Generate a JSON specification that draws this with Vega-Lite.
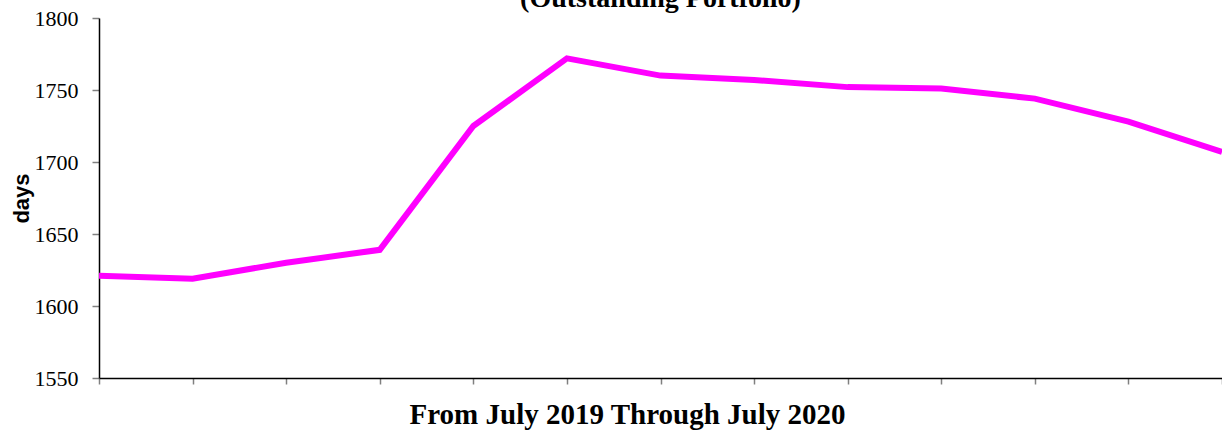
{
  "$schema": "https://vega.github.io/schema/vega-lite/v6.json",
  "width": 1123,
  "height": 360,
  "autosize": "none",
  "padding": {"left": 99, "top": 18, "right": 0, "bottom": 53},
  "background": "white",
  "config": {"view": {"stroke": null}},
  "title": {
    "text": "(Outstanding Portfolio)",
    "font": "Liberation Serif",
    "fontSize": 28,
    "fontWeight": "bold",
    "color": "black",
    "baseline": "alphabetic",
    "offset": 0,
    "dy": 28,
    "anchor": "middle"
  },
  "data": {
    "values": [
      {"month": "Jul 2019", "days": 1621},
      {"month": "Aug 2019", "days": 1619},
      {"month": "Sep 2019", "days": 1630},
      {"month": "Oct 2019", "days": 1639},
      {"month": "Nov 2019", "days": 1725},
      {"month": "Dec 2019", "days": 1772},
      {"month": "Jan 2020", "days": 1760},
      {"month": "Feb 2020", "days": 1757},
      {"month": "Mar 2020", "days": 1752},
      {"month": "Apr 2020", "days": 1751},
      {"month": "May 2020", "days": 1744},
      {"month": "Jun 2020", "days": 1728},
      {"month": "Jul 2020", "days": 1707}
    ]
  },
  "mark": {"type": "line", "color": "#FF00FF", "strokeWidth": 6, "clip": true},
  "encoding": {
    "x": {
      "field": "month",
      "type": "ordinal",
      "sort": null,
      "scale": {"type": "point", "padding": 0},
      "axis": {
        "title": "From July 2019 Through July 2020",
        "titleFont": "Liberation Serif",
        "titleFontSize": 29,
        "titleFontWeight": "bold",
        "titleColor": "black",
        "titleX": 528,
        "titleY": 45,
        "titleAnchor": "middle",
        "titleBaseline": "alphabetic",
        "labels": false,
        "domainColor": "black",
        "domainWidth": 1.5,
        "tickColor": "#808080",
        "tickSize": 6,
        "tickWidth": 1.5,
        "grid": false
      }
    },
    "y": {
      "field": "days",
      "type": "quantitative",
      "scale": {"domain": [1550, 1800], "nice": false, "zero": false},
      "axis": {
        "title": "days",
        "titleFont": "Liberation Sans",
        "titleFontSize": 22,
        "titleFontWeight": "bold",
        "titleColor": "black",
        "titleX": -71,
        "titleBaseline": "alphabetic",
        "titleAnchor": "middle",
        "values": [1550, 1600, 1650, 1700, 1750, 1800],
        "format": "d",
        "labelFont": "Liberation Serif",
        "labelFontSize": 22,
        "labelColor": "black",
        "labelPadding": 14,
        "domainColor": "black",
        "domainWidth": 1.5,
        "tickColor": "#808080",
        "tickSize": 7,
        "tickWidth": 1.5,
        "grid": false
      }
    }
  }
}
